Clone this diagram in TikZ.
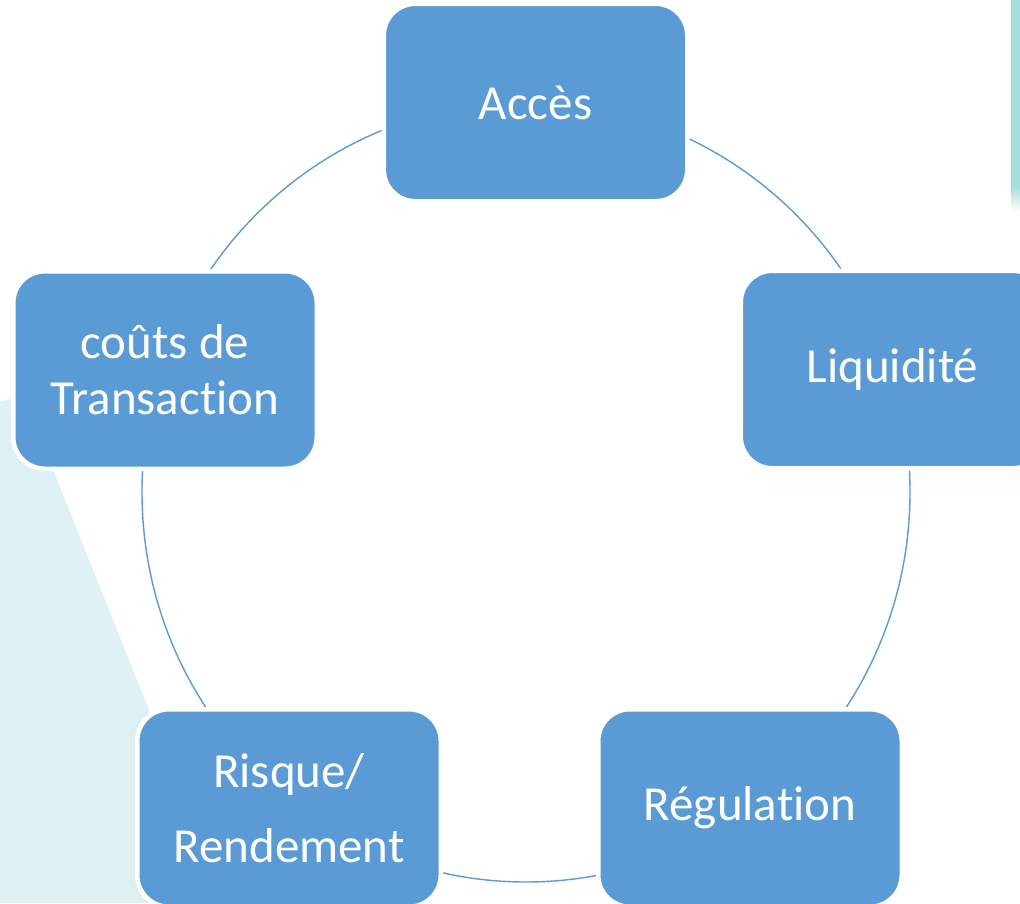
\documentclass[tikz,border=0pt]{standalone}
\usepackage{fontspec}
\setmainfont[RawFeature={-liga;-clig}]{Carlito}
\definecolor{boxblue}{RGB}{91,155,213}
\definecolor{bgcyan}{RGB}{222,240,244}
\definecolor{stripcyan}{RGB}{168,221,220}
\tikzset{
  cyclebox/.style={rectangle, rounded corners=31pt, fill=boxblue, draw=white,
    line width=3pt, minimum width=302pt, minimum height=196pt, inner sep=0pt,
    outer sep=0pt, text=white, align=center,
    font=\fontsize{49}{56}\selectfont,
    preaction={draw=white, line width=6pt}},
  cycleline/.style={draw=boxblue, line width=1.4pt}
}
\begin{document}
\begin{tikzpicture}[x=1pt,y=-1pt]
\useasboundingbox (0,0) rectangle (1020,903);
\fill[white] (0,0) rectangle (1020,903);
% background shapes
\fill[bgcyan] (0,402) -- (23,395) -- (226,903) -- (0,903) -- cycle;
\fill[stripcyan] (1011,0) rectangle (1020,186);
\shade[top color=stripcyan, bottom color=white] (1011,186) rectangle (1020,212);
% cycle line
\draw[cycleline] (526,492) ellipse [x radius=384, y radius=390];
% boxes
\node[cyclebox] (acces) at (535.5,102.5) {Accès};
\node[cyclebox] (liq) at (892.5,369.5) {Liquidité};
\node[cyclebox] (reg) at (750,808) {Régulation};
\node[cyclebox] (risque) at (289,808) {Risque/\\[19pt]Rendement};
\node[cyclebox] (couts) at (165,370) {coûts de\\Transaction};
\end{tikzpicture}
\end{document}
